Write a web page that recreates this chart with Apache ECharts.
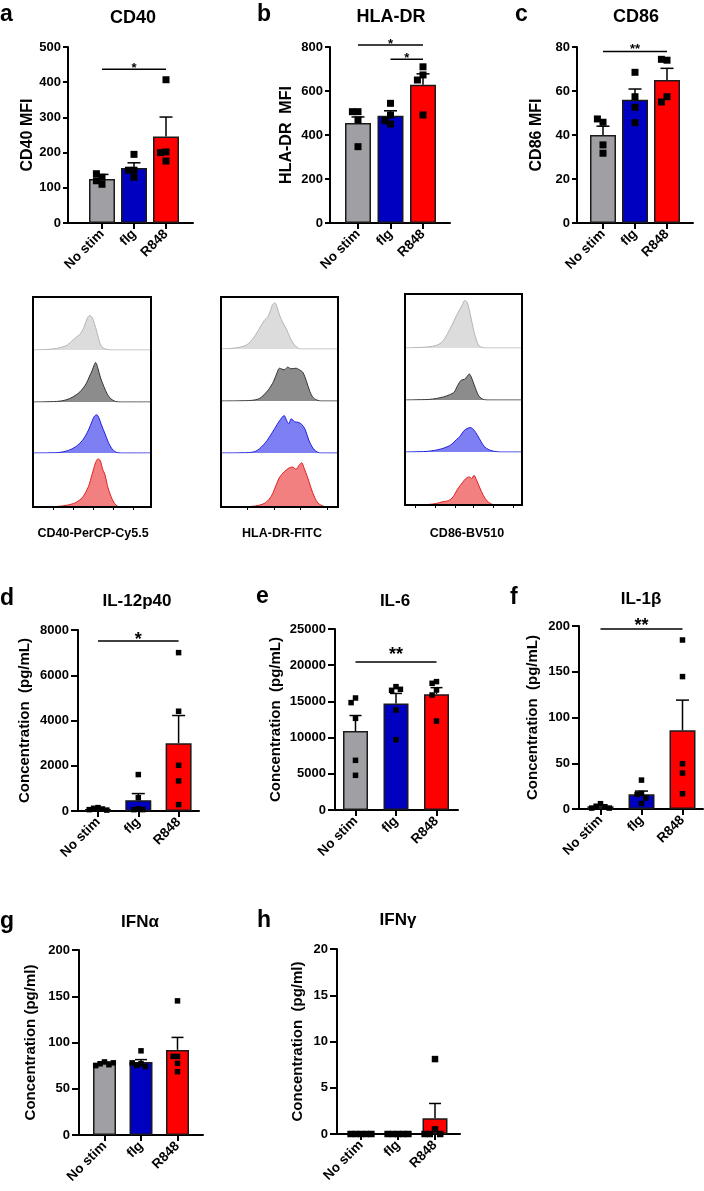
<!DOCTYPE html>
<html>
<head>
<meta charset="utf-8">
<script src="https://cdn.jsdelivr.net/npm/echarts@6/dist/echarts.min.js"></script>
<style>html,body{margin:0;padding:0;background:#fff}#chart{width:704px;height:1191px}</style>
</head>
<body>
<div id="chart"></div>
<script>
var FONT = '"Liberation Sans", Arial, sans-serif';
var groups = ['No stim', 'flg', 'R848'];
var barColors = ['#a0a0a4', '#0000c0', '#ff0000'];

// a - CD40 MFI
var cd40Points = [[130, 140, 110, 120], [195, 150, 150, 130], [407, 202, 200, 176]];
var cd40Mean = [125, 156, 246];
var cd40Sem = [13, 15, 55];
var cd40Sig = [[1, 3, 437, '*']];
// b - HLA-DR MFI
var hladrPoints = [[506, 506, 468, 347], [544, 491, 450, 465], [710, 673, 650, 491]];
var hladrMean = [455, 487, 628];
var hladrSem = [27, 23, 50];
var hladrSig = [[1, 3, 809, '*'], [2, 3, 744, '*']];
// c - CD86 MFI
var cd86Points = [[45.8, 47.3, 35.5, 31.7], [68.5, 57.4, 52.6, 45.6], [74, 74.4, 57.4, 55]];
var cd86Mean = [40, 56, 65];
var cd86Sem = [4, 4.9, 5.3];
var cd86Sig = [[1, 3, 78, '**']];
// d - IL-12p40
var il12Points = [[150, 120, 90, 60, 40], [1610, 590, 100, 60, 60], [7000, 4410, 2020, 1330, 280]];
var il12Mean = [90, 480, 3000];
var il12Sem = [20, 290, 1220];
var il12Sig = [[1, 3, 7510, '*']];
// e - IL-6
var il6Points = [[15470, 14830, 12660, 6860, 4790], [17040, 16530, 16670, 13810, 9710], [17730, 17500, 16580, 15880, 12290]];
var il6Mean = [10900, 14700, 16000];
var il6Sem = [2150, 1400, 900];
var il6Sig = [[1, 3, 20440, '**']];
// f - IL-1b
var il1bPoints = [[5.8, 3, 2.5, 1, 1], [31.6, 17, 16, 12, 6], [184.7, 144.7, 49.5, 39.3, 16.7]];
var il1bMean = [3, 16, 86];
var il1bSem = [1, 3.6, 33];
var il1bSig = [[1, 3, 196.7, '**']];
// g - IFNa
var ifnaPoints = [[79, 77, 76, 75, 78], [91, 77, 75, 74, 78], [145, 85, 85, 77.5, 68.5]];
var ifnaMean = [78, 79, 92];
var ifnaSem = [1, 2.5, 13.5];
// h - IFNg
var ifngPoints = [[0, 0, 0, 0, 0], [0, 0, 0, 0, 0], [8.1, 0.5, 0, 0, 0]];
var ifngMean = [0, 0, 1.7];
var ifngSem = [0, 0, 1.6];

// histograms (x: 0-100 across box, y: fraction of row height)
var cd40Hist = [
  [[0,0],[12,0.01],[20,0.03],[28,0.08],[33,0.17],[37,0.25],[40,0.3],[43,0.42],[46,0.6],[48,0.65],[50,0.62],[52,0.5],[54,0.35],[56,0.18],[58,0.07],[61,0.02],[66,0],[100,0]],
  [[0,0],[20,0.01],[28,0.04],[34,0.1],[40,0.2],[45,0.35],[48,0.5],[50,0.6],[52,0.72],[53,0.76],[55,0.65],[57,0.48],[60,0.3],[63,0.15],[66,0.06],[70,0.01],[74,0],[100,0]],
  [[0,0],[22,0.01],[30,0.05],[36,0.12],[42,0.25],[47,0.45],[50,0.62],[52,0.72],[54,0.75],[56,0.68],[58,0.55],[61,0.38],[64,0.2],[67,0.08],[70,0.02],[74,0],[100,0]],
  [[0,0],[20,0.01],[28,0.03],[36,0.08],[42,0.18],[47,0.38],[50,0.6],[53,0.82],[55,0.89],[57,0.86],[59,0.7],[61,0.6],[63,0.4],[66,0.2],[69,0.07],[72,0.01],[76,0],[100,0]]
];
var hladrHist = [
  [[0,0],[8,0.01],[15,0.03],[22,0.08],[28,0.22],[33,0.4],[37,0.55],[40,0.62],[42,0.72],[44,0.85],[46,0.89],[48,0.8],[50,0.65],[53,0.5],[56,0.38],[59,0.22],[62,0.1],[65,0.03],[68,0],[100,0]],
  [[0,0],[25,0.01],[33,0.05],[40,0.2],[45,0.38],[48,0.55],[50,0.63],[54,0.6],[57,0.65],[60,0.62],[64,0.63],[67,0.6],[70,0.55],[73,0.38],[76,0.18],[79,0.06],[83,0.01],[86,0],[100,0]],
  [[0,0],[25,0.01],[31,0.05],[38,0.2],[44,0.4],[48,0.55],[51,0.65],[54,0.72],[56,0.63],[58,0.56],[60,0.66],[63,0.6],[66,0.59],[69,0.55],[72,0.45],[75,0.25],[79,0.08],[83,0.01],[86,0],[100,0]],
  [[0,0],[25,0.01],[32,0.03],[38,0.08],[43,0.2],[47,0.4],[50,0.55],[54,0.65],[58,0.72],[61,0.74],[64,0.7],[67,0.78],[69,0.82],[71,0.72],[74,0.55],[77,0.35],[80,0.18],[83,0.07],[87,0.02],[90,0],[100,0]]
];
var cd86Hist = [
  [[0,0],[12,0.01],[20,0.02],[27,0.05],[32,0.12],[36,0.25],[40,0.42],[44,0.6],[47,0.72],[49,0.8],[51,0.88],[53,0.85],[55,0.7],[57,0.5],[59,0.3],[61,0.15],[63,0.05],[66,0.01],[70,0],[100,0]],
  [[0,0],[20,0.01],[27,0.03],[33,0.06],[38,0.1],[42,0.15],[45,0.28],[48,0.38],[51,0.4],[53,0.45],[55,0.5],[57,0.42],[59,0.3],[61,0.18],[63,0.08],[66,0.02],[70,0],[100,0]],
  [[0,0],[18,0.01],[25,0.03],[31,0.06],[36,0.1],[40,0.15],[44,0.24],[47,0.3],[50,0.4],[53,0.45],[56,0.47],[59,0.42],[62,0.32],[65,0.2],[68,0.1],[72,0.04],[77,0.01],[82,0],[100,0]],
  [[0,0],[20,0.01],[27,0.03],[32,0.06],[37,0.08],[41,0.15],[45,0.3],[49,0.42],[52,0.5],[55,0.53],[57,0.5],[59,0.56],[61,0.48],[64,0.32],[67,0.18],[70,0.08],[73,0.03],[77,0],[100,0]]
];
var histFill = ['#dcdcdc', '#8c8c8c', '#7f7ff4', '#f28080'];
var histEdge = ['#b4b4b4', '#333333', '#2020e0', '#e02020'];

var panels = [
  {letter: 'a', title: 'CD40', yName: 'CD40 MFI', max: 500, interval: 100, points: cd40Points, mean: cd40Mean, sem: cd40Sem, sig: cd40Sig,
   L: {axisX: 68, top: 47, bottom: 223, right: 193, first: 102, step: 32, barW: 26, nameDist: 40.5, nameSize: 16, sym: 7, cap: 13, star: 13, starGap: 4, ytick: 5,
       lx: 0, ly: 15, tx: 133, ty: 18}},
  {letter: 'b', title: 'HLA-DR', yName: 'HLA-DR  MFI', max: 800, interval: 200, points: hladrPoints, mean: hladrMean, sem: hladrSem, sig: hladrSig,
   L: {axisX: 330, top: 47, bottom: 223, right: 450, first: 358, step: 32.5, barW: 26, nameDist: 43, nameSize: 16, sym: 7, cap: 13, star: 13, starGap: 4, ytick: 5,
       lx: 257, ly: 15, tx: 391, ty: 17.5}},
  {letter: 'c', title: 'CD86', yName: 'CD86 MFI', max: 80, interval: 20, points: cd86Points, mean: cd86Mean, sem: cd86Sem, sig: cd86Sig,
   L: {axisX: 577, top: 47, bottom: 223, right: 693, first: 603, step: 32, barW: 26, nameDist: 40, nameSize: 16, sym: 7, cap: 13, star: 13, starGap: 5, ytick: 5,
       lx: 515, ly: 15, tx: 636, ty: 17.5}},
  {letter: 'd', title: 'IL-12p40', yName: 'Concentration  (pg/mL)', max: 8000, interval: 2000, points: il12Points, mean: il12Mean, sem: il12Sem, sig: il12Sig,
   L: {axisX: 78, top: 630, bottom: 811, right: 199, first: 98, step: 40.3, barW: 26, nameDist: 53, nameSize: 15, sym: 5.5, cap: 13, star: 18, starGap: 6, ytick: 7,
       lx: 0, ly: 599, tx: 137, ty: 601.5}},
  {letter: 'e', title: 'IL-6', yName: 'Concentration  (pg/mL)', max: 25000, interval: 5000, points: il6Points, mean: il6Mean, sem: il6Sem, sig: il6Sig,
   L: {axisX: 335, top: 629, bottom: 810, right: 458, first: 355.5, step: 40.5, barW: 25, nameDist: 59, nameSize: 15, sym: 5.5, cap: 12, star: 18, starGap: 11, ytick: 7,
       lx: 256, ly: 597, tx: 395, ty: 601}},
  {letter: 'f', title: 'IL-1\u03b2', yName: 'Concentration  (pg/mL)', max: 200, interval: 50, points: il1bPoints, mean: il1bMean, sem: il1bSem, sig: il1bSig,
   L: {axisX: 579, top: 626, bottom: 809, right: 703, first: 600.5, step: 41, barW: 26, nameDist: 46, nameSize: 15, sym: 5.5, cap: 13, star: 18, starGap: 7, ytick: 7,
       lx: 510, ly: 598, tx: 641, ty: 599}},
  {letter: 'g', title: 'IFN\u03b1', yName: 'Concentration (pg/ml)', max: 200, interval: 50, points: ifnaPoints, mean: ifnaMean, sem: ifnaSem, sig: null,
   L: {axisX: 79, top: 950, bottom: 1135, right: 203, first: 104.5, step: 36.5, barW: 23, nameDist: 48, nameSize: 15, sym: 5.5, cap: 12, star: 18, starGap: 6, ytick: 7,
       lx: 0, ly: 922, tx: 140, ty: 922}},
  {letter: 'h', title: 'IFN\u03b3', yName: 'Concentration  (pg/ml)', max: 20, interval: 5, points: ifngPoints, mean: ifngMean, sem: ifngSem, sig: null,
   L: {axisX: 337, top: 949, bottom: 1134, right: 460, first: 361, step: 37, barW: 25, nameDist: 39.5, nameSize: 15, sym: 6.5, cap: 12, star: 18, starGap: 6, ytick: 7,
       lx: 257, ly: 921, tx: 398, ty: 920}}
];

var histBoxes = [
  {hist: cd40Hist, label: 'CD40-PerCP-Cy5.5', left: 33, right: 151, top: 297, rows: [350, 402, 453, 507], ticks: [17, 34, 51, 68, 85], lx: 93},
  {hist: hladrHist, label: 'HLA-DR-FITC', left: 221, right: 338, top: 297, rows: [349, 401, 453, 507], ticks: [22.7, 45.3, 68, 90.7], lx: 282},
  {hist: cd86Hist, label: 'CD86-BV510', left: 405, right: 522, top: 294, rows: [348, 400, 452, 505], ticks: [8.6, 25.7, 42.9, 58.6, 75.7, 92.9], lx: 467}
];

// spread overlapping points sideways, like a column scatter
function dodge(values, gx, H, max, size) {
  var s = size * 0.8, placed = [], out = [];
  var cands = [0, -1, 1, -2, 2, -3, 3];
  values.forEach(function (v) {
    var py = v / max * H, off = 0;
    for (var c = 0; c < cands.length; c++) {
      off = cands[c] * s;
      var ok = true;
      for (var j = 0; j < placed.length; j++) {
        if (Math.abs(placed[j][0] - off) < s - 0.1 && Math.abs(placed[j][1] - py) < size - 0.1) { ok = false; break; }
      }
      if (ok) break;
    }
    placed.push([off, py]);
    out.push({value: [gx, v], symbolOffset: [off, 0]});
  });
  return out;
}

function errRender(cap) {
  return function (params, api) {
    var s = api.value(2);
    if (!s) return null;
    var p0 = api.coord([api.value(0), api.value(1)]);
    var p1 = api.coord([api.value(0), api.value(1) + s]);
    var st = {stroke: '#000', lineWidth: 1.5};
    return {type: 'group', children: [
      {type: 'line', shape: {x1: p0[0], y1: p0[1], x2: p1[0], y2: p1[1]}, style: st},
      {type: 'line', shape: {x1: p1[0] - cap / 2, y1: p1[1], x2: p1[0] + cap / 2, y2: p1[1]}, style: st}
    ]};
  };
}

function sigRender(sig, L) {
  return function (params, api) {
    var a = api.coord([api.value(0), api.value(2)]);
    var b = api.coord([api.value(1), api.value(2)]);
    return {type: 'group', children: [
      {type: 'line', shape: {x1: a[0], y1: a[1], x2: b[0], y2: b[1]}, style: {stroke: '#000', lineWidth: 1.5}},
      {type: 'text', x: (a[0] + b[0]) / 2, y: a[1] - L.starGap + L.star * 0.25,
       style: {text: sig[params.dataIndex][3], font: 'bold ' + L.star + 'px ' + FONT, fill: '#000', align: 'center', verticalAlign: 'middle'}}
    ]};
  };
}

function txt(x, y, text, size, align) {
  return {type: 'text', x: x, y: y, z: 50,
    style: {text: text, font: 'bold ' + size + 'px ' + FONT, fill: '#000', align: align || 'center', verticalAlign: 'middle'}};
}

var grids = [], xAxes = [], yAxes = [], series = [], graphics = [];

panels.forEach(function (p) {
  var L = p.L, gi = grids.length, H = L.bottom - L.top;
  grids.push({left: L.axisX, top: L.top, width: L.right - L.axisX, height: H});
  var xmin = 1 - (L.first - L.axisX) / L.step;
  var xmax = 3 + (L.right - (L.first + 2 * L.step)) / L.step;
  xAxes.push({
    gridIndex: gi, type: 'value', min: xmin, max: xmax,
    axisLine: {onZero: false, lineStyle: {color: '#000', width: 2}},
    axisTick: {customValues: [1, 2, 3], length: 6, lineStyle: {color: '#000', width: 2}},
    axisLabel: {customValues: [1, 2, 3], formatter: function (v) { return groups[Math.round(v) - 1]; },
      rotate: 45, margin: 9, color: '#000', fontWeight: 'bold', fontSize: 13.5, fontFamily: FONT},
    splitLine: {show: false}
  });
  yAxes.push({
    gridIndex: gi, type: 'value', min: 0, max: p.max, interval: p.interval,
    name: p.yName, nameLocation: 'middle', nameGap: L.nameDist,
    nameTextStyle: {color: '#000', fontWeight: 'bold', fontSize: L.nameSize, fontFamily: FONT, verticalAlign: 'middle'},
    axisLine: {show: true, onZero: false, lineStyle: {color: '#000', width: 2}},
    axisTick: {show: true, length: L.ytick, lineStyle: {color: '#000', width: 2}},
    axisLabel: {color: '#000', fontWeight: 'bold', fontSize: 13, fontFamily: FONT, margin: L.ytick + 2,
      formatter: function (v) { return String(v); }},
    splitLine: {show: false}
  });
  series.push({
    type: 'bar', xAxisIndex: gi, yAxisIndex: gi, barWidth: L.barW, z: 2,
    itemStyle: {borderColor: '#1a1a1a', borderWidth: 1.5},
    data: p.mean.map(function (m, k) { return {value: [k + 1, m], itemStyle: {color: barColors[k]}}; })
  });
  series.push({
    type: 'custom', xAxisIndex: gi, yAxisIndex: gi, z: 3, renderItem: errRender(L.cap),
    data: p.mean.map(function (m, k) { return [k + 1, m, p.sem[k]]; })
  });
  var pts = [];
  p.points.forEach(function (vals, k) { pts = pts.concat(dodge(vals, k + 1, H, p.max, L.sym)); });
  series.push({
    type: 'scatter', xAxisIndex: gi, yAxisIndex: gi, z: 4, symbol: 'rect', symbolSize: L.sym,
    itemStyle: {color: '#000', opacity: 1}, data: pts
  });
  if (p.sig) {
    series.push({
      type: 'custom', xAxisIndex: gi, yAxisIndex: gi, z: 5, clip: false, renderItem: sigRender(p.sig, L),
      encode: {x: [0, 1], y: 2},
      data: p.sig.map(function (s) { return [s[0], s[1], s[2]]; })
    });
  }
  graphics.push(txt(L.lx, L.ly, p.letter, 23, 'left'));
  graphics.push(txt(L.tx, L.ty, p.title, p.letter < 'd' ? 18 : 17));
});

histBoxes.forEach(function (b) {
  var prev = b.top;
  b.rows.forEach(function (base, r) {
    var gi = grids.length, last = r === b.rows.length - 1;
    grids.push({left: b.left, top: prev, width: b.right - b.left, height: base - prev});
    xAxes.push({
      gridIndex: gi, type: 'value', min: 0, max: 100, show: last,
      axisLine: {show: false}, axisLabel: {show: false}, splitLine: {show: false},
      axisTick: {show: last, customValues: b.ticks, length: 3, lineStyle: {color: '#000', width: 1}}
    });
    yAxes.push({gridIndex: gi, type: 'value', min: 0, max: 1, show: false});
    series.push({
      type: 'line', xAxisIndex: gi, yAxisIndex: gi, smooth: 0.3, symbol: 'none', z: 1,
      lineStyle: {color: histEdge[r], width: 1},
      areaStyle: {color: histFill[r], opacity: 1},
      data: b.hist[r]
    });
    prev = base;
  });
  graphics.push({type: 'rect', z: 40, shape: {x: b.left, y: b.top, width: b.right - b.left, height: b.rows[3] - b.top},
    style: {fill: 'none', stroke: '#000', lineWidth: 2}});
  graphics.push(txt(b.lx, 533.5, b.label, 12.5));
});

var chart = echarts.init(document.getElementById('chart'));
chart.setOption({
  animation: false,
  textStyle: {fontFamily: FONT},
  grid: grids,
  xAxis: xAxes,
  yAxis: yAxes,
  series: series,
  graphic: graphics
});
</script>
</body>
</html>
